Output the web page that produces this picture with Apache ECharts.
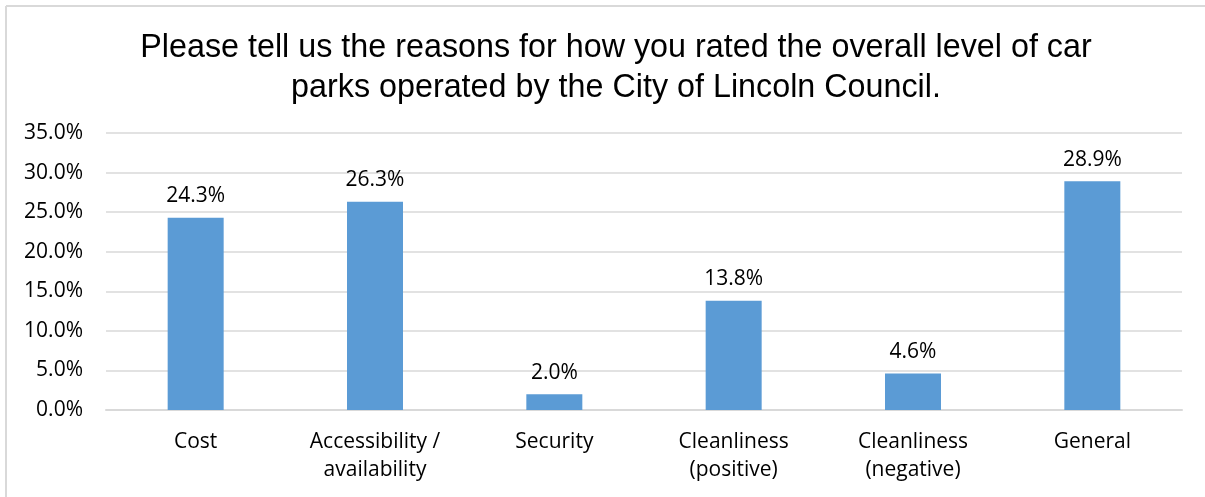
<!DOCTYPE html>
<html>
<head>
<meta charset="utf-8">
<script src="https://cdn.jsdelivr.net/npm/echarts@6/dist/echarts.min.js"></script>
<style>
  html, body { margin: 0; padding: 0; background: #ffffff; }
  #chart { width: 1205px; height: 497px; }
</style>
</head>
<body>
<div id="chart"></div>
<script>
// Survey reasons for the car park rating
const titleText = 'Please tell us the reasons for how you rated the overall level of car\nparks operated by the City of Lincoln Council.';
const categories = ['Cost', 'Accessibility /\navailability', 'Security', 'Cleanliness\n(positive)', 'Cleanliness\n(negative)', 'General'];
const shares = [24.3, 26.3, 2.0, 13.8, 4.6, 28.9];

const labelFont = '"Open Sans", "Noto Sans", sans-serif';

const chart = echarts.init(document.getElementById('chart'), null, { renderer: 'canvas' });

chart.setOption({
  animation: false,
  backgroundColor: '#ffffff',
  title: {
    text: titleText,
    left: 611,
    top: 23,
    textAlign: 'center',
    textStyle: {
      fontFamily: '"Liberation Sans", Arial, sans-serif',
      fontSize: 32.3,
      fontWeight: 'normal',
      color: '#000000',
      lineHeight: 40
    }
  },
  graphic: [
    { type: 'line', shape: { x1: 6, y1: 6, x2: 1205, y2: 6 }, style: { stroke: '#d9d9d9', lineWidth: 2 } },
    { type: 'line', shape: { x1: 6, y1: 6, x2: 6, y2: 497 }, style: { stroke: '#d9d9d9', lineWidth: 2 } }
  ],
  grid: { left: 106, right: 23, top: 133, bottom: 87 },
  xAxis: {
    type: 'category',
    data: categories,
    axisLine: { lineStyle: { color: '#d9d9d9', width: 2 } },
    axisTick: { show: false },
    axisLabel: {
      interval: 0,
      margin: 18,
      fontFamily: labelFont,
      fontSize: 21,
      lineHeight: 28,
      color: '#000000'
    }
  },
  yAxis: {
    type: 'value',
    min: 0,
    max: 35,
    interval: 5,
    axisLine: { show: false },
    axisTick: { show: false },
    splitLine: { lineStyle: { color: '#d9d9d9', width: 1.5 } },
    axisLabel: {
      margin: 23,
      fontFamily: labelFont,
      fontSize: 21,
      color: '#000000',
      formatter: v => v.toFixed(1) + '%'
    }
  },
  series: [{
    type: 'bar',
    data: shares,
    barWidth: 56,
    itemStyle: { color: '#5b9bd5' },
    label: {
      show: true,
      position: 'top',
      distance: 11,
      fontFamily: labelFont,
      fontSize: 21,
      color: '#000000',
      formatter: p => p.value.toFixed(1) + '%'
    }
  }]
});
</script>
</body>
</html>
